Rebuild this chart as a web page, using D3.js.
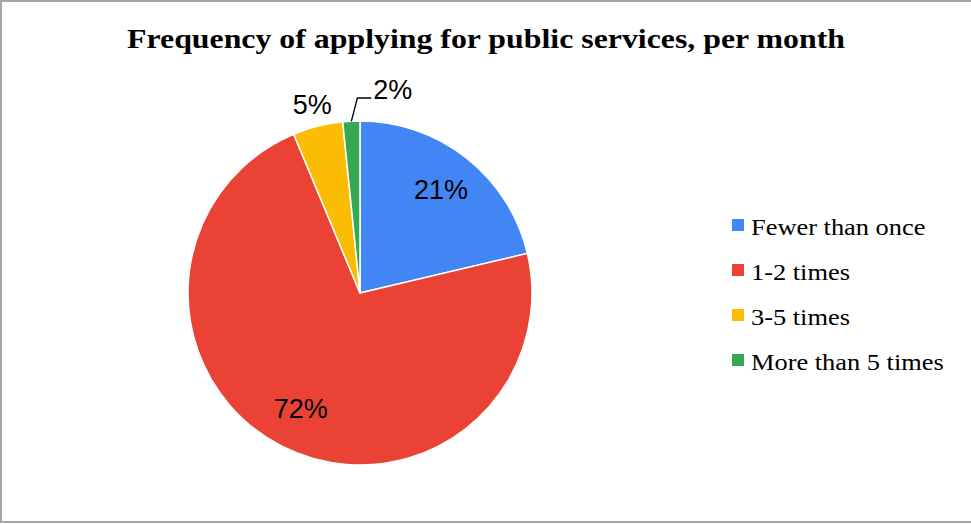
<!DOCTYPE html>
<html>
<head>
<meta charset="utf-8">
<script src="https://cdn.jsdelivr.net/npm/d3@7"></script>
<style>
  html, body { margin: 0; padding: 0; background: #fff; }
  svg { display: block; }
</style>
</head>
<body>
<svg id="chart" width="971" height="524"></svg>
<script>
// Share of respondents by how often they apply for public services each month
const categories = ["Fewer than once", "1-2 times", "3-5 times", "More than 5 times"];
const shares = [21.3, 72.4, 4.7, 1.6];
const colors = ["#4285f4", "#ea4335", "#fbbc04", "#34a853"];
const title = "Frequency of applying for public services, per month";

const svg = d3.select("#chart");
const W = 971, H = 524;

// outer frame
svg.append("rect")
  .attr("x", 1).attr("y", 1)
  .attr("width", W + 4).attr("height", H - 3)
  .attr("fill", "#fff")
  .attr("stroke", "#a6a6a6")
  .attr("stroke-width", 2);

svg.append("text")
  .attr("x", 486).attr("y", 48)
  .attr("text-anchor", "middle")
  .attr("font-family", "'Liberation Serif', 'Times New Roman', serif")
  .attr("font-weight", "bold")
  .attr("font-size", 27.5)
  .attr("textLength", 718)
  .attr("lengthAdjust", "spacingAndGlyphs")
  .attr("fill", "#000")
  .text(title);

const cx = 360, cy = 293, r = 172;
const data = categories.map((c, i) => ({ name: c, value: shares[i], color: colors[i] }));
const total = d3.sum(shares);

const pie = d3.pie().value(d => d.value).sort(null);
const arcs = pie(data);
const arc = d3.arc().innerRadius(0).outerRadius(r);

const g = svg.append("g").attr("transform", `translate(${cx},${cy})`);

g.selectAll("path.slice")
  .data(arcs)
  .join("path")
  .attr("class", "slice")
  .attr("d", arc)
  .attr("fill", d => d.data.color)
  .attr("stroke", "#fff")
  .attr("stroke-width", 1.5)
  .attr("stroke-linejoin", "round");

const pct = v => Math.round(v / total * 100) + "%";
const labelFont = "'Liberation Sans', Arial, sans-serif";
const labelSize = 27;

// inside labels for the large slices, outside labels for the thin ones
arcs.forEach((d, i) => {
  const mid = (d.startAngle + d.endAngle) / 2;
  const sx = Math.sin(mid), sy = -Math.cos(mid);
  if (i < 2) {
    const lr = r * 0.76;
    g.append("text")
      .attr("x", sx * lr).attr("y", sy * lr)
      .attr("text-anchor", "middle")
      .attr("dominant-baseline", "central")
      .attr("font-family", labelFont)
      .attr("font-size", labelSize)
      .attr("fill", "#000")
      .text(pct(d.data.value));
  } else if (i === 2) {
    const lr = r + 22;
    g.append("text")
      .attr("x", sx * lr).attr("y", sy * lr)
      .attr("text-anchor", "middle")
      .attr("dominant-baseline", "central")
      .attr("font-family", labelFont)
      .attr("font-size", labelSize)
      .attr("fill", "#000")
      .text(pct(d.data.value));
  } else {
    const p0 = [sx * r, sy * r];
    const p1 = [sx * r + 6, -r - 23];
    const p2 = [p1[0] + 14, p1[1]];
    g.append("polyline")
      .attr("points", [p0, p1, p2].map(p => p.join(",")).join(" "))
      .attr("fill", "none")
      .attr("stroke", "#000")
      .attr("stroke-width", 1.3);
    g.append("text")
      .attr("x", p2[0] + 2).attr("y", p2[1] + 1)
      .attr("text-anchor", "start")
      .attr("font-family", labelFont)
      .attr("font-size", labelSize)
      .attr("fill", "#000")
      .text(pct(d.data.value));
  }
});

// legend
const legend = svg.append("g").attr("transform", "translate(732,225)");
const rowH = 45;
const items = legend.selectAll("g")
  .data(data)
  .join("g")
  .attr("transform", (d, i) => `translate(0,${i * rowH})`);
items.append("rect")
  .attr("x", 0).attr("y", -6)
  .attr("width", 12).attr("height", 12)
  .attr("fill", d => d.color);
items.append("text")
  .attr("transform", "translate(19,10) scale(1.1,1)")
  .attr("font-family", "'Liberation Serif', 'Times New Roman', serif")
  .attr("font-size", 24)
  .attr("fill", "#000")
  .text(d => d.name);
</script>
</body>
</html>
